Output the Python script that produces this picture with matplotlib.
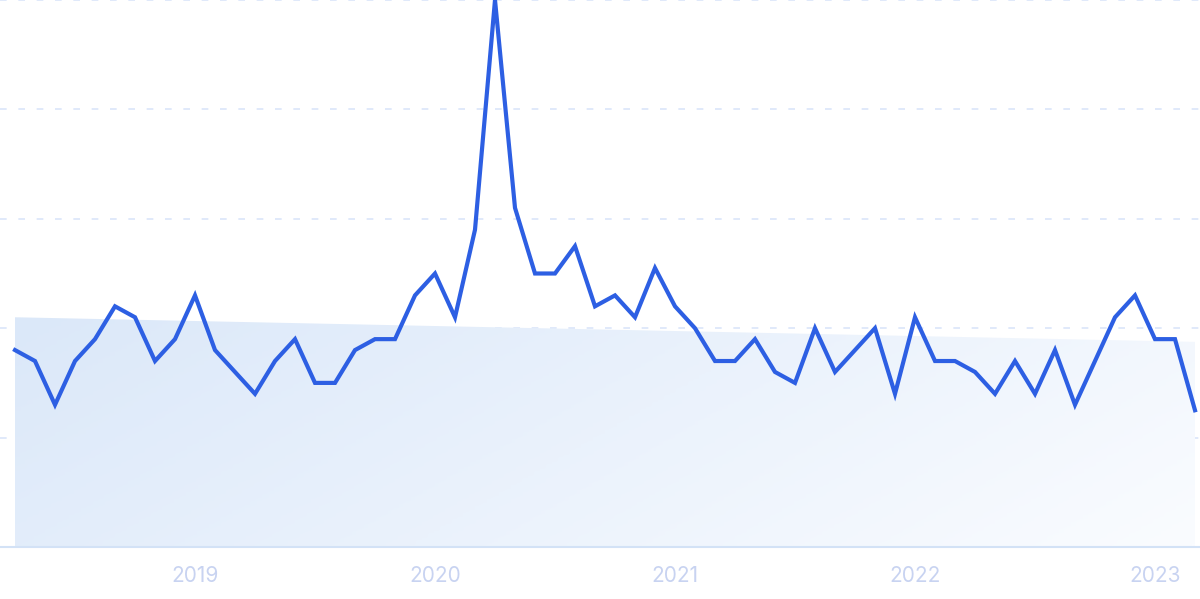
import numpy as np
import matplotlib
matplotlib.use("Agg")
import matplotlib.pyplot as plt
from matplotlib.colors import LinearSegmentedColormap

# monthly interest, Apr 2018 - Mar 2023
months = [f"{2018 + (m + 3) // 12}-{(m + 3) % 12 + 1:02d}" for m in range(60)]
interest = [36, 34, 26, 34, 38, 44, 42, 34, 38, 46,
            36, 32, 28, 34, 38, 30, 30, 36, 38, 38,
            46, 50, 42, 58, 100, 62, 50, 50, 55, 44,
            46, 42, 51, 44, 40, 34, 34, 38, 32, 30,
            40, 32, 36, 40, 28, 42, 34, 34, 32, 28,
            34, 28, 36, 26, 34, 42, 46, 38, 38, 25]
trend_start = 42
trend_end = 37.5
year_labels = ["2019", "2020", "2021", "2022", "2023"]

plt.rcParams['font.family'] = ['Inter', 'DejaVu Sans']

fig = plt.figure(figsize=(12, 5.99), dpi=100)
ax = fig.add_axes([0, 52 / 599, 1, 547 / 599])

x = np.arange(len(interest))
ax.set_xlim(-0.75, len(interest) - 0.75)
ax.set_ylim(0, 100)

# gradient trend area
poly = ax.fill_between([x[0], x[-1]], [trend_start, trend_end], 0,
                       facecolor='none', edgecolor='none')
cmap = LinearSegmentedColormap.from_list('fade', ['#dbe8f9', '#fafcff'])
gx, gy = np.meshgrid(np.linspace(0, 1, 200), np.linspace(0, 1, 100))
grad = 0.75 * gx + 0.25 * gy
img = ax.imshow(grad, cmap=cmap, origin='upper', aspect='auto',
                extent=[x[0], x[-1], 0, trend_start], zorder=1)
img.set_clip_path(poly.get_paths()[0], transform=ax.transData)

# grid
for v in [20, 40, 60, 80, 100]:
    ax.axhline(v, color='#dae5fa', lw=1.2, dashes=(4, 7), zorder=0,
               clip_on=False)
ax.axhline(0, color='#d3e2f6', lw=1.5, zorder=2, clip_on=False)

ax.plot(x, interest, color='#2d5fe3', lw=3.0, solid_joinstyle='miter',
        zorder=3)

ticks = [months.index(f"{y}-01") for y in year_labels]
ax.set_xticks(ticks)
ax.set_xticklabels(year_labels, color='#c8d3f1', fontsize=15)
ax.tick_params(axis='x', length=0, pad=14)
ax.set_yticks([])
for s in ax.spines.values():
    s.set_visible(False)

fig.savefig('out.png', dpi=100)
